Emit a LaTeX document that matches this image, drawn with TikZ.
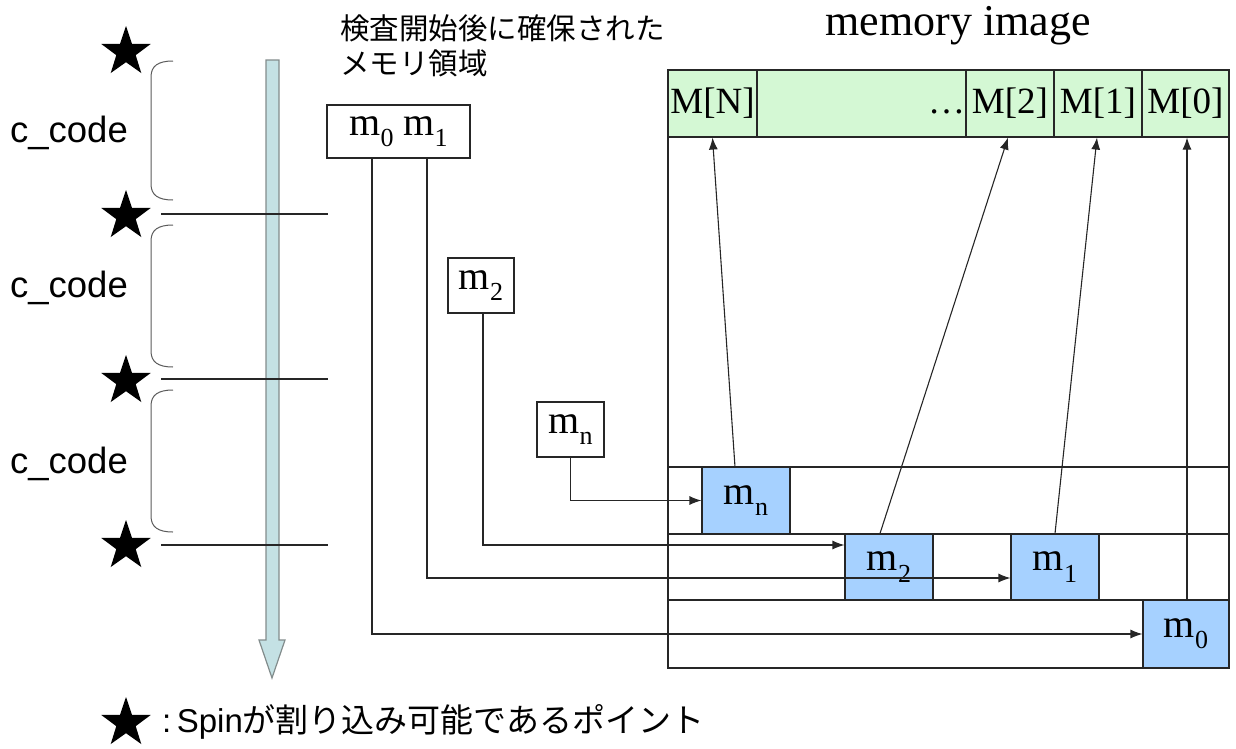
\documentclass[tikz,border=0pt]{standalone}
\usepackage{fontspec}
\setmainfont{Liberation Serif}
\setsansfont{Liberation Sans}
\newfontfamily\jpfont{Noto Sans CJK JP}
\usetikzlibrary{shapes.geometric,arrows.meta}
\definecolor{hdrgreen}{RGB}{212,248,212}
\definecolor{cellblue}{RGB}{166,209,255}
\definecolor{flowfill}{RGB}{196,225,228}
\definecolor{flowline}{RGB}{130,140,140}
\definecolor{brgray}{RGB}{90,90,90}
\newcommand\lsub[1]{\raisebox{-0.28em}{\fontsize{26}{26}\selectfont #1}}
\tikzset{
  ln/.style={line width=1.1pt, draw=black!85},
  hcell/.style={ln, fill=hdrgreen, inner sep=0pt, minimum height=67pt, font=\fontsize{37}{40}\selectfont},
  bcell/.style={ln, fill=cellblue, inner sep=0pt, minimum width=88pt, minimum height=66pt, font=\fontsize{40}{42}\selectfont},
  lbox/.style={ln, fill=white, inner sep=0pt, font=\fontsize{40}{42}\selectfont},
  arr/.style={ln, -{Latex[length=12pt,width=9pt]}},
  spinstar/.style={star, star points=5, star point ratio=2.55, fill=black, inner sep=0pt, minimum size=52pt},
  bracket/.style={line width=1pt, draw=brgray},
  clabel/.style={font=\sffamily\fontsize{36.5}{40}\selectfont},
}
\begin{document}
\begin{tikzpicture}[x=1pt,y=-1pt]
\useasboundingbox (0,0) rectangle (1236,748);

% ---- time-flow arrow
\filldraw[fill=flowfill, draw=flowline, line width=1.2pt]
  (266,60) -- (279,60) -- (279,640) -- (285,640) -- (272,678) -- (259,640) -- (266,640) -- cycle;

% ---- stars, separators, brackets, labels
\node[spinstar] (s0) at (126,52) {};
\node[spinstar] (s1) at (126,216) {};
\node[spinstar] (s2) at (126,381) {};
\node[spinstar] (s3) at (126,546) {};
\draw[ln] (161,214) -- (328,214);
\draw[ln] (161,379) -- (328,379);
\draw[ln] (161,545) -- (328,545);
\foreach \ya/\yb in {61/200, 225/367, 390/532}{
  \draw[bracket] (173,\ya) .. controls (158,\ya) and (151,\ya+5) .. (151,\ya+16)
     -- (151,\yb-16) .. controls (151,\yb-5) and (158,\yb) .. (173,\yb);
}
\node[clabel] (c1) at (69,133) {c\_code};
\node[clabel] (c2) at (69,288) {c\_code};
\node[clabel] (c3) at (69,464) {c\_code};

% ---- caption
\node[anchor=north west, align=left, inner sep=0pt, font=\jpfont\fontsize{29.5}{35}\selectfont] (cap) at (340,14)
  {検査開始後に確保された\\メモリ領域};
\node[font=\fontsize{44}{48}\selectfont] (title) at (958,26) {memory image};

% ---- memory image frame
\draw[ln] (668,70) rectangle (1229,668);
\draw[ln] (668,467) -- (1229,467);
\draw[ln] (668,534) -- (1229,534);
\draw[ln] (668,600) -- (1229,600);
\node[hcell, minimum width=89pt] (MN) at (712.5,103.5) {M[N]};
\node[hcell, minimum width=209pt, text width=207pt, align=right] (Md) at (861.5,103.5) {\vphantom{M[N]}\dots};
\node[hcell, minimum width=88pt] (M2) at (1010,103.5) {M[2]};
\node[hcell, minimum width=88pt] (M1) at (1098,103.5) {M[1]};
\node[hcell, minimum width=87pt] (M0) at (1185.5,103.5) {M[0]};

% ---- blue cells
\node[bcell] (bmn) at (746,500.5) {m\lsub{n}};
\node[bcell] (bm2) at (889,567) {\raisebox{-4pt}{m\lsub{2}}};
\node[bcell] (bm1) at (1055,567) {m\lsub{1}};
\node[bcell, minimum width=86pt, minimum height=68pt] (bm0) at (1186,634) {m\lsub{0}};

% ---- left boxes
\node[lbox, minimum width=143pt, minimum height=53pt] (lm01) at (398.5,131.5) {m\lsub{0} m\lsub{1}};
\node[lbox, minimum width=66pt, minimum height=55pt] (lm2) at (481,285.5) {m\lsub{2}};
\node[lbox, minimum width=67pt, minimum height=55pt] (lmn) at (570.5,429.5) {m\lsub{n}};

% ---- connectors into memory
\draw[arr] ([xshift=-26.5pt]lm01.south) |- (bm0.west);
\draw[arr] ([xshift=28.5pt]lm01.south) |- ([yshift=-11pt]bm1.west);
\draw[arr] ([xshift=2pt]lm2.south) |- ([yshift=22pt]bm2.west);
\draw[arr] (lmn.south) |- (bmn.west);

% ---- arrows up to header
\draw[arr] ([xshift=-11pt]bmn.north) -- (MN.south);
\draw[arr] ([xshift=-9pt]bm2.north) -- ([xshift=-2pt]M2.south);
\draw[arr] (bm1.north) -- ([xshift=-1pt]M1.south);
\draw[arr] ([xshift=1pt]bm0.north) -- ([xshift=1.5pt]M0.south);

% ---- legend
\node[spinstar] (ls) at (126,723) {};
\node[anchor=west, inner sep=0pt, font=\jpfont\fontsize{33}{35}\selectfont] (leg) at (162,722)
  {{\sffamily :\,Spin}が割り込み可能であるポイント};
\end{tikzpicture}
\end{document}
